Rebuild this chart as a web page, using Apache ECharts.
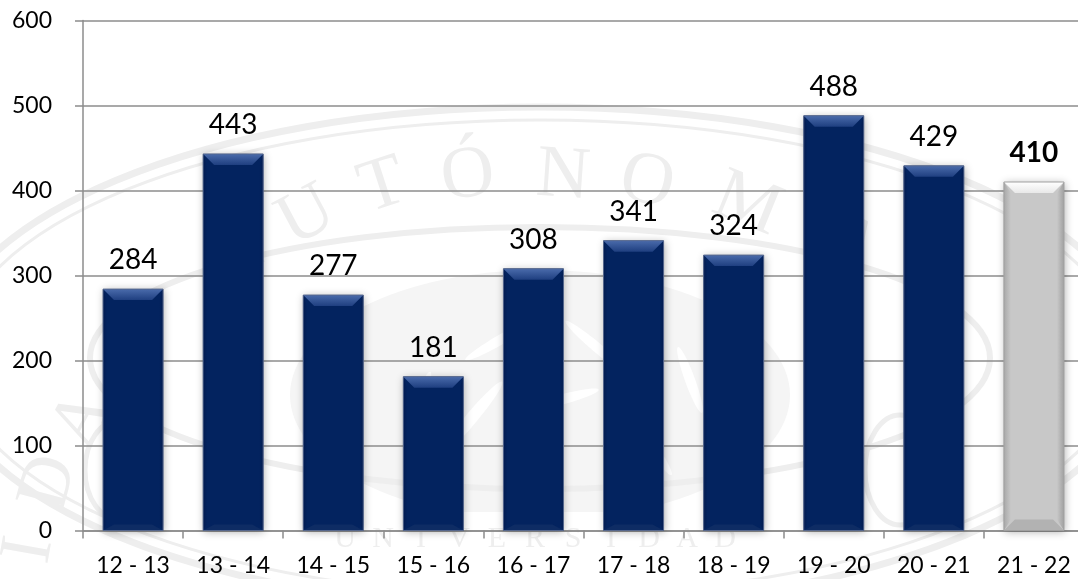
<!DOCTYPE html>
<html><head><meta charset="utf-8">
<style>html,body{margin:0;padding:0;background:#fff}#c{width:1078px;height:579px}</style>
<script src="https://cdn.jsdelivr.net/npm/echarts@6/dist/echarts.min.js"></script>
</head><body><div id="c"></div>
<script>
const categories = ['12 - 13','13 - 14','14 - 15','15 - 16','16 - 17','17 - 18','18 - 19','19 - 20','20 - 21','21 - 22'];
const students = [284,443,277,181,308,341,324,488,429,410];
const highlightCategory = '21 - 22';
const yTicks = {min:0,max:600,interval:100};

const wmColor = '#eeeeee';
const wmLetters = [
 ['A',232,262,38],['U',307,217,28],['T',383,187,18],['Ó',468,177,7],['N',563,177,-4],['O',647,183,-13],['M',747,205,-22],['A',850,245,-32],
 ['D',50,483,75],['I',30,550,80],['A',83,420,62]
];
const wmBottom = ['U','N','I','V','E','R','S','I','D','A','D'];
const ring = (cx,cy,rx,ry,lw,c)=>({type:'ellipse',z:-5,silent:true,shape:{cx,cy,rx,ry},style:{fill:null,stroke:c||wmColor,lineWidth:lw}});
const streak = (cx,cy,rx,ry,deg)=>({type:'ellipse',z:-5,silent:true,x:cx,y:cy,rotation:deg*Math.PI/180,shape:{cx:0,cy:0,rx,ry},style:{fill:'#fff'}});
const graphicEls = [
 {type:'ellipse',z:-6,silent:true,shape:{cx:540,cy:395,rx:250,ry:125},style:{fill:'#f5f5f5'}},
 ring(540,358,600,251,7), ring(540,358,585,238,3),
 ring(540,358,450,131,6),
 streak(500,340,40,5,30), streak(600,350,45,5,-40), streak(470,420,50,6,50), streak(640,430,55,6,-55),
 streak(540,470,60,7,85), streak(420,400,30,5,70), streak(690,380,35,5,-70), streak(560,400,40,5,15),
 ring(120,470,35,50,5), ring(900,470,35,55,5),
 {type:'rect',z:-5,silent:true,shape:{x:330,y:512,width:420,height:52},style:{fill:'#fff'}},
 ...wmLetters.map(([t,x,y,r])=>({type:'text',z:-4,silent:true,x,y,rotation:r*Math.PI/180,
   style:{text:t,font:'74px "Liberation Serif"',fill:wmColor,align:'center',verticalAlign:'middle'}})),
 ...wmBottom.map((t,i)=>({type:'text',z:-4,silent:true,x:345+i*38,y:539,
   style:{text:t,font:'30px "Liberation Serif"',fill:wmColor,align:'center',verticalAlign:'middle'}}))
];

const chart = echarts.init(document.getElementById('c'),null,{renderer:'canvas'});
const font = 'Lato';

function bevel(params, api){
  const idx = api.value(0);
  const v = api.value(1);
  const top = api.coord([idx, v]);
  const base = api.coord([idx, 0]);
  const w = api.size([1,0])[0]*0.6;
  const l = top[0]-w/2, r = top[0]+w/2, t = top[1], b = base[1];
  const hi = categories[idx]===highlightCategory;
  const s = 11, sb = hi?11:6, si = hi?7:4;
  const poly = (pts,fill)=>({type:'polygon',shape:{points:pts},style:{fill}});
  const lin = (x0,y0,x1,y1,c0,c1)=>new echarts.graphic.LinearGradient(x0,y0,x1,y1,[{offset:0,color:c0},{offset:1,color:c1}]);
  return {type:'group',children:[
    poly([[l,t],[l+si,t+s],[l+si,b-sb],[l,b]], hi?lin(0,0,1,0,'#a8a8a8','#c8c8c8'):lin(0,0,1,0,'#021b50','#03235f')),
    poly([[r,t],[r-si,t+s],[r-si,b-sb],[r,b]], hi?lin(0,0,1,0,'#c8c8c8','#a0a0a0'):lin(0,0,1,0,'#03235f','#021b50')),
    poly([[l,t],[r,t],[r-s,t+s],[l+s,t+s]], hi?lin(0,0,0,1,'#ffffff','#e8e8e8'):lin(0,0,0,1,'#4a6bab','#1f3f80')),
    poly([[l,b],[r,b],[r-s,b-sb],[l+s,b-sb]], hi?'#b2b2b2':'#0e2c64'),
    {type:'rect',shape:{x:l,y:t,width:r-l,height:b-t},style:{fill:null,stroke:hi?'#a0a0a0':'#56678c',lineWidth:1}}
  ]};
}

chart.setOption({
  animation:false,
  backgroundColor:'#fff',
  graphic:{elements:graphicEls},
  grid:{left:83,width:1001,top:20.5,height:510,containLabel:false,outerBoundsMode:'none'},
  xAxis:{type:'category',data:categories,
    axisLine:{lineStyle:{color:'#8c8c8c',width:1.5}},
    axisTick:{show:true,alignWithLabel:false,length:8,lineStyle:{color:'#8c8c8c',width:1.5}},
    axisLabel:{color:'#000',fontFamily:font,fontSize:23,margin:24,interval:0},
    splitLine:{show:false}},
  yAxis:{type:'value',min:yTicks.min,max:yTicks.max,interval:yTicks.interval,
    axisLine:{show:true,lineStyle:{color:'#8c8c8c',width:1.5}},
    axisTick:{show:true,length:8,lineStyle:{color:'#8c8c8c',width:1.5}},
    axisLabel:{color:'#000',fontFamily:font,fontSize:23,margin:31},
    splitLine:{show:true,lineStyle:{color:'#8c8c8c',width:1.5}}},
  series:[
   {type:'bar',barWidth:'60%',
    data:students.map((v,i)=>{
      const hi=categories[i]===highlightCategory;
      return {value:v,
        itemStyle:{color:hi?'#c8c8c8':'#03235f',shadowBlur:8,shadowColor:'rgba(0,0,0,0.3)',shadowOffsetX:1,shadowOffsetY:1},
        label:hi?{fontWeight:'bold'}:{}};
    }),
    label:{show:true,position:'top',distance:15,color:'#000',fontFamily:font,fontSize:28}},
   {type:'custom',silent:true,z:3,renderItem:bevel,
    encode:{x:0,y:1},
    data:students.map((v,i)=>[i,v])}
  ]
});
</script></body></html>
